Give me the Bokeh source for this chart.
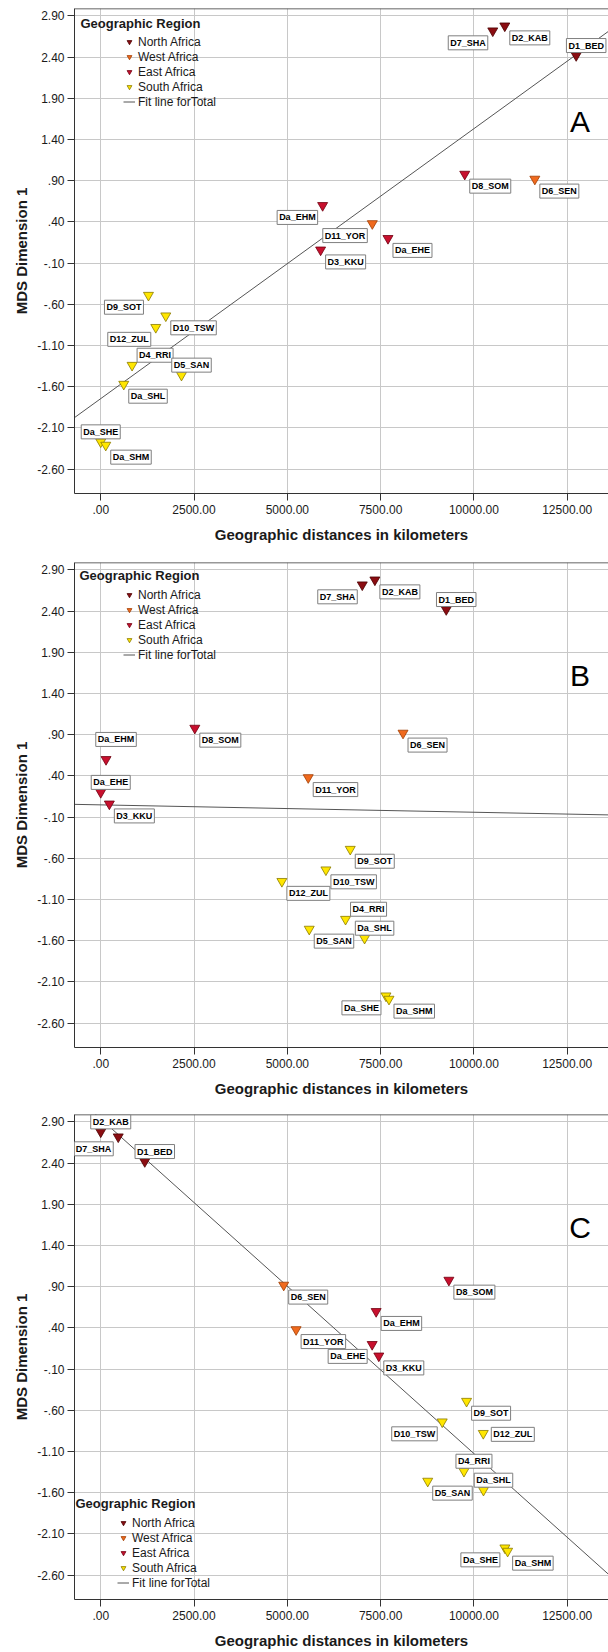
import numpy as np
from bokeh.plotting import figure
from bokeh.models import (ColumnDataSource, Label, Legend, LegendItem, FixedTicker,
                          CustomJSTickFormatter, Span, Range1d, Title)
from bokeh.layouts import column
from bokeh.embed import file_html
from bokeh.resources import INLINE

# ---------------- data ----------------
populations = ["D1_BED", "D2_KAB", "D3_KKU", "D4_RRI", "D5_SAN", "D6_SEN", "D7_SHA",
               "D8_SOM", "D9_SOT", "D10_TSW", "D11_YOR", "D12_ZUL", "Da_EHE", "Da_EHM",
               "Da_SHE", "Da_SHL", "Da_SHM"]
regions = ["North Africa", "North Africa", "East Africa", "South Africa", "South Africa",
           "West Africa", "North Africa", "East Africa", "South Africa", "South Africa",
           "West Africa", "South Africa", "East Africa", "East Africa", "South Africa",
           "South Africa", "South Africa"]
mds_dimension_1 = [2.42, 2.78, 0.06, -1.34, -1.46, 0.92, 2.72, 0.98, -0.49, -0.74,
                   0.38, -0.88, 0.20, 0.60, -2.27, -1.57, -2.31]
distance_panel_a = [12740, 10827, 5892, 840, 2164, 11632, 10505, 9754, 1279, 1743,
                    7277, 1475, 7697, 5946, 0, 617, 134]
distance_panel_b = [9258, 7346, 231, 6560, 5587, 8100, 7008, 2521, 6686, 6034,
                    5560, 4854, 0, 142, 7643, 7070, 7724]
distance_panel_c = [1180, 0, 7451, 9733, 8762, 4903, 469, 9329, 9803, 9151,
                    5235, 10251, 7273, 7380, 10830, 10256, 10903]
region_order = ["North Africa", "West Africa", "East Africa", "South Africa"]
panel_letters = ["A", "B", "C"]
x_ticks = [0, 2500, 5000, 7500, 10000, 12500]
y_ticks = [2.90, 2.40, 1.90, 1.40, 0.90, 0.40, -0.10, -0.60, -1.10, -1.60, -2.10, -2.60]
x_title = "Geographic distances in kilometers"
y_title = "MDS Dimension 1"
legend_title = "Geographic Region"
fit_label = "Fit line forTotal"

# ---------------- style / layout ----------------
FONT = "Liberation Sans"
REGION_FILL = {"North Africa": "#8b0d12", "West Africa": "#f06a1e",
               "East Africa": "#c8102e", "South Africa": "#ffe600"}
REGION_LINE = {"North Africa": "#4a0000", "West Africa": "#a03c00",
               "East Africa": "#6e0010", "South Africa": "#8a7a00"}
X0, X1 = -703.0, 13606.0
Y0, Y1 = -2.897, 2.991
LEFT = 74
FRAME_W = 608 - LEFT
FRAME_H = 485
PX_X = FRAME_W / (X1 - X0)
PX_Y = FRAME_H / (Y1 - Y0)

PLACE = {"SE": ("left", 5, 12), "SW": ("right", -5, 12), "NE": ("left", 5, -10),
         "NR": ("center", 10, -10), "N": ("center", 0, -10), "E": ("left", 8, 1),
         "NH": ("center", 10, -20)}
label_place = {
    "A": dict(D1_BED="NR", D2_KAB="SE", D3_KKU="SE", D4_RRI="NE", D5_SAN="NR", D6_SEN="SE",
              D7_SHA="SW", D8_SOM="SE", D9_SOT="SW", D10_TSW="SE", D11_YOR="SW", D12_ZUL="SW",
              Da_EHE="SE", Da_EHM="SW", Da_SHE="N", Da_SHL="SE", Da_SHM="SE"),
    "B": dict(D1_BED="NR", D2_KAB="SE", D3_KKU="SE", D4_RRI="NE", D5_SAN="SE", D6_SEN="SE",
              D7_SHA="SW", D8_SOM="SE", D9_SOT="SE", D10_TSW="SE", D11_YOR="SE", D12_ZUL="SE",
              Da_EHE="NR", Da_EHM="NH", Da_SHE="SW", Da_SHL="NR", Da_SHM="SE"),
    "C": dict(D1_BED="NR", D2_KAB="NR", D3_KKU="SE", D4_RRI="NR", D5_SAN="SE", D6_SEN="SE",
              D7_SHA="SW", D8_SOM="SE", D9_SOT="SE", D10_TSW="SW", D11_YOR="SE", D12_ZUL="E",
              Da_EHE="SW", Da_EHM="SE", Da_SHE="SW", Da_SHL="NR", Da_SHM="SE"),
}
# legend: title (x px from frame left, px below frame top); items bottom-left (screen)
legend_pos = {"A": dict(title=(6, 14.5), items=(49, 384)),
              "B": dict(title=(5, 13), items=(49, 385)),
              "C": dict(title=(1, 388.7), items=(43, 9))}
panel_heights = [554, 552, 546]

fmt = CustomJSTickFormatter(code="""
let s = tick.toFixed(2);
if (s.startsWith('0.')) { s = s.slice(1); }
else if (s.startsWith('-0.')) { s = '-' + s.slice(2); }
return s;
""")


def make_panel(letter, dist, height):
    p = figure(width=608, height=height, x_range=Range1d(X0, X1), y_range=Range1d(Y0, Y1),
               output_backend="svg", toolbar_location=None,
               min_border_left=LEFT, min_border_right=0, min_border_top=8,
               min_border_bottom=height - 8 - FRAME_H)
    p.outline_line_color = None
    p.background_fill_color = "white"
    p.border_fill_color = "white"

    for ax in (p.xaxis[0], p.yaxis[0]):
        ax.formatter = fmt
        ax.axis_line_color = "#333333"
        ax.major_tick_line_color = "#333333"
        ax.major_tick_out = 7
        ax.major_tick_in = 0
        ax.minor_tick_line_color = None
        ax.major_label_text_font = FONT
        ax.major_label_text_font_size = "12px"
        ax.major_label_text_color = "#1a1a1a"
    p.xaxis.ticker = FixedTicker(ticks=x_ticks, minor_ticks=[])
    p.yaxis.ticker = FixedTicker(ticks=y_ticks, minor_ticks=[])
    p.xaxis.major_label_standoff = 4
    p.yaxis.major_label_standoff = 3
    p.xaxis.axis_label = x_title
    p.xaxis.axis_label_text_font = FONT
    p.xaxis.axis_label_text_font_size = "15px"
    p.xaxis.axis_label_text_font_style = "bold"
    p.xaxis.axis_label_text_color = "#1a1a1a"
    p.xaxis.axis_label_standoff = 9

    # y-axis title, shifted upward like the original
    p.add_layout(Title(text=y_title, align="center", offset=27, text_font=FONT,
                       text_font_size="15px", text_font_style="bold",
                       text_color="#1a1a1a"), "left")

    p.xgrid.ticker = FixedTicker(ticks=x_ticks)
    p.ygrid.ticker = FixedTicker(ticks=y_ticks)
    p.grid.grid_line_color = "#c8c8c8"
    p.grid.grid_line_width = 1

    p.add_layout(Span(location=Y1, dimension="width", line_color="#333333", line_width=1.5))

    # fit line (least squares from the data)
    slope, intercept = np.polyfit(np.array(dist, float), np.array(mds_dimension_1, float), 1)
    xs = [X0, X1]
    fit = p.line(xs, [intercept + slope * x for x in xs], line_color="#555555", line_width=1)

    rends = {}
    for reg in region_order:
        idx = [i for i, r in enumerate(regions) if r == reg]
        src = ColumnDataSource(dict(x=[dist[i] for i in idx], y=[mds_dimension_1[i] for i in idx]))
        rends[reg] = p.scatter("x", "y", source=src, marker="inverted_triangle", size=10,
                               fill_color=REGION_FILL[reg], line_color=REGION_LINE[reg],
                               line_width=0.8)

    # point labels
    for name, xv, yv in zip(populations, dist, mds_dimension_1):
        align, dx, dy = PLACE[label_place[letter][name]]
        p.add_layout(Label(x=xv, y=yv, text=name, x_offset=dx, y_offset=-dy,
                           text_align=align, text_baseline="middle", text_font=FONT,
                           text_font_size="9px", text_font_style="bold", text_color="black",
                           background_fill_color="white", border_line_color="#7f7f7f",
                           border_line_width=1, padding=2))

    # legend
    items = [LegendItem(label=reg, renderers=[rends[reg]]) for reg in region_order]
    items.append(LegendItem(label=fit_label, renderers=[fit]))
    lg = Legend(items=items, location=legend_pos[letter]["items"], padding=0, margin=0,
                spacing=0, glyph_width=12, glyph_height=15, label_height=15,
                label_standoff=3, label_text_font=FONT, label_text_font_size="12px",
                label_text_color="#1a1a1a", background_fill_alpha=0, border_line_alpha=0)
    p.add_layout(lg)
    tx, ty = legend_pos[letter]["title"]
    p.add_layout(Label(x=X0 + tx / PX_X, y=Y1 - ty / PX_Y, text=legend_title,
                       text_align="left", text_baseline="middle", text_font=FONT,
                       text_font_size="13px", text_font_style="bold", text_color="#1a1a1a"))

    # panel letter
    p.add_layout(Label(x=X0 + 505.5 / PX_X, y=Y1 - 113 / PX_Y, text=letter,
                       text_align="center", text_baseline="middle", text_font=FONT,
                       text_font_size="30px", text_color="black"))
    return p


dists = [distance_panel_a, distance_panel_b, distance_panel_c]
panels = [make_panel(l, d, h) for l, d, h in zip(panel_letters, dists, panel_heights)]
layout = column(*panels, spacing=0)
open("out.html", "w").write(file_html(layout, INLINE))
